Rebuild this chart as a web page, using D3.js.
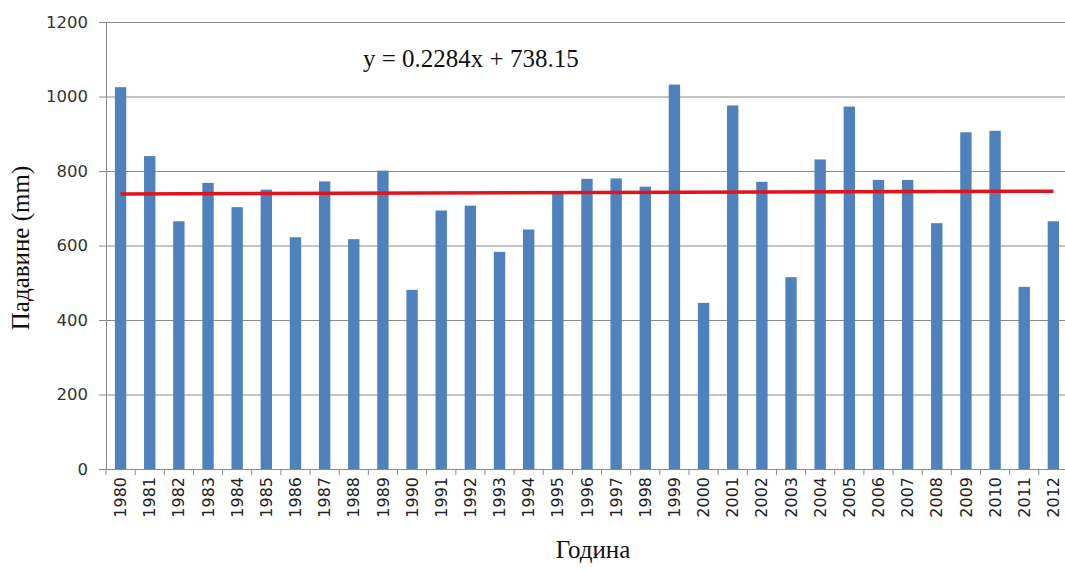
<!DOCTYPE html>
<html>
<head>
<meta charset="utf-8">
<script src="https://cdn.jsdelivr.net/npm/d3@7"></script>
<style>
  body { margin: 0; background: #fff; }
  svg { display: block; overflow: hidden; }
</style>
</head>
<body>
<div id="graph-container"></div>
<script>
const w = 1065;
const h = 570;

// rainfall per year (mm)
const years = ["1980","1981","1982","1983","1984","1985","1986","1987","1988","1989",
  "1990","1991","1992","1993","1994","1995","1996","1997","1998","1999",
  "2000","2001","2002","2003","2004","2005","2006","2007","2008","2009",
  "2010","2011","2012"];
const rainfall = [1025, 840, 665, 768, 703, 750, 622, 772, 617, 801,
  481, 694, 707, 583, 643, 740, 779, 780, 758, 1032,
  446, 976, 771, 515, 831, 973, 776, 776, 660, 904,
  908, 489, 665];
const yTicks = [0, 200, 400, 600, 800, 1000, 1200];
// linear trend at the first and last year
const trendEnds = [738.4, 745.7];
const trendLabel = "y = 0.2284x + 738.15";

const margin = { left: 106, top: 22, bottom: 101 };
const step = 29.15;
const plotRight = margin.left + step * years.length;
const plotBottom = h - margin.bottom;

const svg = d3.select("#graph-container").append("svg")
  .attr("width", w).attr("height", h);

const xScale = d3.scaleBand()
  .domain(years)
  .range([margin.left, plotRight])
  .paddingInner(0.61)
  .paddingOuter(0.305);

const yScale = d3.scaleLinear()
  .domain([0, 1200])
  .range([plotBottom, margin.top]);

//Gridlines
svg.append("g")
  .attr("transform", `translate(${margin.left},0)`)
  .call(d3.axisLeft(yScale).tickValues(yTicks).tickSize(-(plotRight - margin.left)).tickFormat(""))
  .call(g => g.select(".domain").remove())
  .call(g => g.selectAll("line").attr("stroke", "#8a8a8a").attr("stroke-width", 1));

//Bars
svg.selectAll("rect.bar")
  .data(years)
  .enter()
  .append("rect")
  .attr("class", "bar")
  .attr("x", d => xScale(d))
  .attr("width", xScale.bandwidth())
  .attr("y", (d, i) => yScale(rainfall[i]))
  .attr("height", (d, i) => yScale(0) - yScale(rainfall[i]))
  .attr("fill", "#4f81bd");

//Y axis
svg.append("g")
  .attr("transform", `translate(${margin.left},0)`)
  .call(d3.axisLeft(yScale).tickValues(yTicks).tickFormat(d3.format("d"))
    .tickSizeInner(7).tickSizeOuter(0).tickPadding(11))
  .call(g => g.select(".domain").attr("stroke", "#8a8a8a"))
  .call(g => g.selectAll("line").attr("stroke", "#8a8a8a"))
  .call(g => g.selectAll("text")
    .attr("font-family", "DejaVu Sans")
    .attr("font-size", "16.5px")
    .attr("fill", "#333"));

//X axis
const xAxis = svg.append("g")
  .attr("transform", `translate(0,${plotBottom})`)
  .call(d3.axisBottom(xScale).tickSize(0).tickSizeOuter(0).tickPadding(0));
xAxis.select(".domain").attr("stroke", "#8a8a8a");
xAxis.selectAll("text")
  .attr("font-family", "DejaVu Sans")
  .attr("font-size", "16px")
  .attr("fill", "#222")
  .attr("text-anchor", "end")
  .attr("transform", "rotate(-90)")
  .attr("x", -8)
  .attr("y", 0)
  .attr("dy", "0.35em");

//boundary ticks between categories
svg.append("g")
  .selectAll("line")
  .data(years)
  .enter()
  .append("line")
  .attr("x1", d => xScale(d) + xScale.bandwidth() / 2 - xScale.step() / 2)
  .attr("x2", d => xScale(d) + xScale.bandwidth() / 2 - xScale.step() / 2)
  .attr("y1", plotBottom)
  .attr("y2", plotBottom + 6)
  .attr("stroke", "#8a8a8a");

//Trend line
const first = years[0], last = years[years.length - 1];
svg.append("line")
  .attr("x1", xScale(first) + xScale.bandwidth() / 2)
  .attr("x2", xScale(last) + xScale.bandwidth() / 2)
  .attr("y1", yScale(trendEnds[0]))
  .attr("y2", yScale(trendEnds[1]))
  .attr("stroke", "#e2141b")
  .attr("stroke-width", 3.5);

svg.append("text")
  .attr("x", 363)
  .attr("y", 67)
  .attr("font-family", "Liberation Serif")
  .attr("font-size", "25px")
  .attr("fill", "#111")
  .text(trendLabel);

//Axis titles
svg.append("text")
  .attr("transform", `translate(29,248) rotate(-90)`)
  .attr("text-anchor", "middle")
  .attr("font-family", "Liberation Serif")
  .attr("font-size", "25px")
  .attr("fill", "#111")
  .text("Падавине (mm)");

svg.append("text")
  .attr("x", 593)
  .attr("y", 558)
  .attr("text-anchor", "middle")
  .attr("font-family", "Liberation Serif")
  .attr("font-size", "25px")
  .attr("fill", "#111")
  .text("Година");
</script>
</body>
</html>
